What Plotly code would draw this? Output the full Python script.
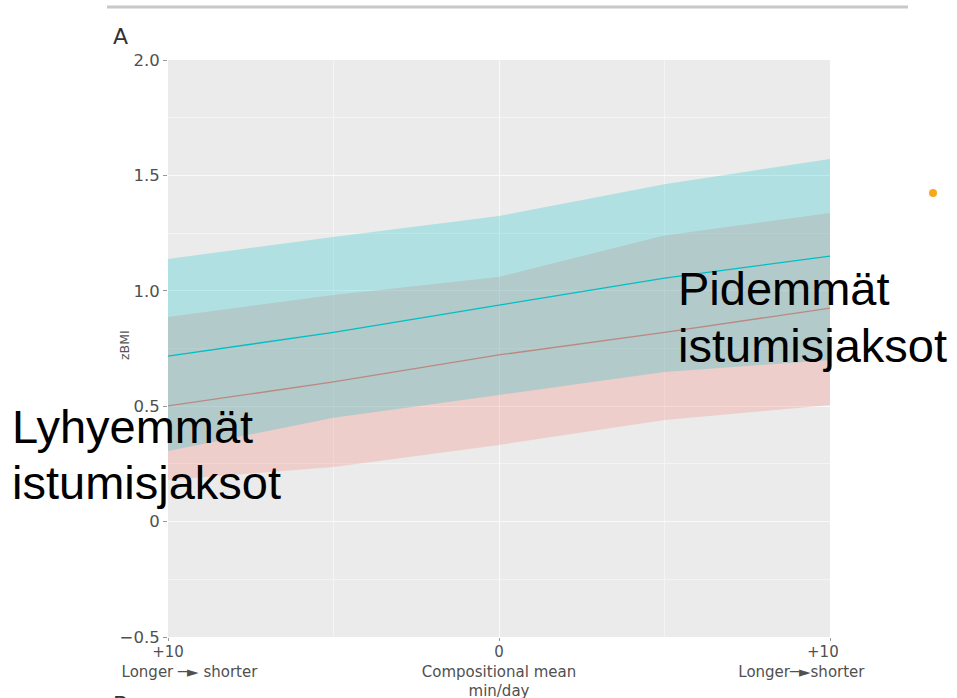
import plotly.graph_objects as go

# ---- data ----
x_vals = [-10, -5, 0, 5, 10]

longer_fit = [0.717, 0.820, 0.938, 1.055, 1.150]   # teal series
longer_lo = [0.306, 0.450, 0.549, 0.648, 0.700]
longer_hi = [1.138, 1.233, 1.324, 1.462, 1.571]

shorter_fit = [0.501, 0.605, 0.722, 0.820, 0.925]  # red series
shorter_lo = [0.180, 0.237, 0.332, 0.440, 0.505]
shorter_hi = [0.886, 0.982, 1.060, 1.240, 1.337]

x_tickvals = [-10, 0, 10]
x_ticktext = [
    "+10<br>" + "\u00a0" * 9 + "Longer \u2500\u25ba shorter",
    "0<br>Compositional mean<br>min/day",
    "+10" + "\u00a0" * 3 + "<br>Longer\u2500\u25bashorter" + "\u00a0" * 12,
]
y_tickvals = [-0.5, 0, 0.5, 1.0, 1.5, 2.0]
y_ticktext = ["\u22120.5", "0", "0.5", "1.0", "1.5", "2.0"]
y_title = "zBMI"

RED = "#F8766D"
TEAL = "#00BFC4"
RED_FILL = "rgba(248,118,109,0.25)"
TEAL_FILL = "rgba(0,191,196,0.25)"

W, H = 957, 698
L, R, T, B = 168, 830, 60, 637


def px(xp):
    return (xp - L) / (R - L)


def py(yp):
    return (B - yp) / (B - T)


fig = go.Figure()

# red band + line (drawn first)
fig.add_trace(go.Scatter(x=x_vals, y=shorter_lo, mode="lines", line=dict(width=0),
                         hoverinfo="skip", showlegend=False))
fig.add_trace(go.Scatter(x=x_vals, y=shorter_hi, mode="lines", line=dict(width=0),
                         fill="tonexty", fillcolor=RED_FILL, hoverinfo="skip", showlegend=False))
fig.add_trace(go.Scatter(x=x_vals, y=shorter_fit, mode="lines", line=dict(color=RED, width=1.3),
                         showlegend=False, name="Lyhyemmät istumisjaksot"))

# teal band + line
fig.add_trace(go.Scatter(x=x_vals, y=longer_lo, mode="lines", line=dict(width=0),
                         hoverinfo="skip", showlegend=False))
fig.add_trace(go.Scatter(x=x_vals, y=longer_hi, mode="lines", line=dict(width=0),
                         fill="tonexty", fillcolor=TEAL_FILL, hoverinfo="skip", showlegend=False))
fig.add_trace(go.Scatter(x=x_vals, y=longer_fit, mode="lines", line=dict(color=TEAL, width=1.3),
                         showlegend=False, name="Pidemmät istumisjaksot"))

FAM = "Liberation Sans, Arial, sans-serif"
TICKFAM = "DejaVu Sans, sans-serif"

fig.update_layout(
    width=W, height=H,
    margin=dict(l=L, r=W - R, t=T, b=H - B, autoexpand=False),
    paper_bgcolor="white",
    plot_bgcolor="#EBEBEB",
    font=dict(family=FAM),
    xaxis=dict(
        range=[-10, 10], tickvals=x_tickvals, ticktext=x_ticktext,
        showgrid=True, gridcolor="#FAFAFA", gridwidth=1.2,
        minor=dict(tickvals=[-5, 5], showgrid=True, gridcolor="#F4F4F4", gridwidth=0.7),
        zeroline=False, showline=False,
        ticks="outside", ticklen=3, tickcolor="#999999", tickwidth=1,
        tickfont=dict(family=TICKFAM, size=15, color="#505050"),
        ticklabelstandoff=-2, fixedrange=True,
    ),
    yaxis=dict(
        range=[-0.5, 2.0], tickvals=y_tickvals, ticktext=y_ticktext,
        showgrid=True, gridcolor="#FAFAFA", gridwidth=1.2,
        minor=dict(tickvals=[-0.25, 0.25, 0.75, 1.25, 1.75], showgrid=True,
                   gridcolor="#F4F4F4", gridwidth=0.7),
        zeroline=False, showline=False,
        ticks="outside", ticklen=4, tickcolor="#999999", tickwidth=1,
        tickfont=dict(family=TICKFAM, size=16.5, color="#505050"), fixedrange=True,
    ),
)

big = dict(family=FAM, size=47, color="black")
ann = [
    dict(text="A", x=px(120), y=py(36.5), font=dict(family=TICKFAM, size=22, color="#333333")),
    dict(text="B", x=px(120), y=py(704), font=dict(family=TICKFAM, size=22, color="#333333")),
    dict(text=y_title, x=px(124), y=py(345), textangle=-90,
         font=dict(family=TICKFAM, size=12.5, color="#555555")),
    dict(text="Pidemmät", x=px(676), y=py(288), xanchor="left", font=big),
    dict(text="istumisjaksot", x=px(676), y=py(345), xanchor="left", font=big),
    dict(text="Lyhyemmät", x=px(10), y=py(426), xanchor="left", font=big),
    dict(text="istumisjaksot", x=px(10), y=py(482), xanchor="left", font=big),
]
for a in ann:
    a.setdefault("xanchor", "center")
    a.update(xref="paper", yref="paper", yanchor="middle", showarrow=False)
fig.update_layout(annotations=ann)

fig.update_layout(shapes=[
    dict(type="line", xref="paper", yref="paper", x0=px(107), x1=px(908), y0=py(7), y1=py(7),
         line=dict(color="#C8C8C8", width=3)),
    dict(type="circle", xref="paper", yref="paper", xsizemode="pixel", ysizemode="pixel",
         xanchor=px(933), yanchor=py(193), x0=-4, x1=4, y0=-4, y1=4,
         fillcolor="#F7A81B", line=dict(width=0)),
])

fig.write_html("out.html")
